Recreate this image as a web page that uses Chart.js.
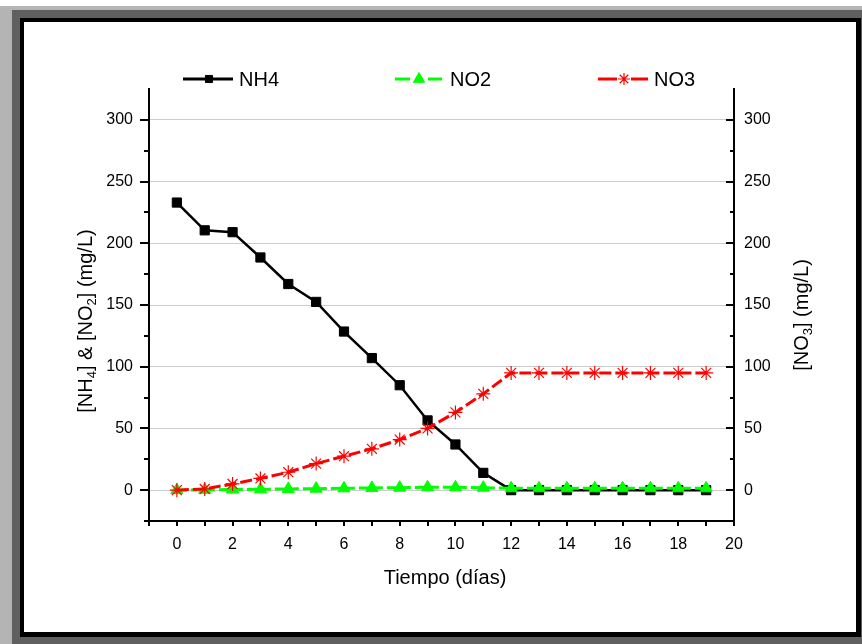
<!DOCTYPE html>
<html>
<head>
<meta charset="utf-8">
<script src="https://cdn.jsdelivr.net/npm/chart.js@4.4.1/dist/chart.umd.min.js"></script>
<style>
    html, body { margin: 0; padding: 0; background: #fff; }
    #page { position: relative; width: 862px; height: 644px; overflow: hidden; }
    .box { position: absolute; }
    canvas { position: absolute; left: 0; top: 0; }
</style>
</head>
<body>
<div id="page">
    <div class="box" style="left:0;top:6px;width:862px;height:638px;background:#b4b4b4"></div>
    <div class="box" style="left:12px;top:10px;width:850px;height:634px;background:#606060"></div>
    <div class="box" style="left:20px;top:18px;width:841px;height:619px;background:#000"></div>
    <div class="box" style="left:24px;top:22px;width:832px;height:610px;background:#fff"></div>
    <canvas id="chart" width="862" height="644"></canvas>
</div>
<script>
const days = [0, 1, 2, 3, 4, 5, 6, 7, 8, 9, 10, 11, 12, 13, 14, 15, 16, 17, 18, 19];
const nh4 = [233, 210.5, 209, 188.5, 167, 152.5, 128.5, 107, 85, 56.5, 37, 14, 0, 0, 0, 0, 0, 0, 0, 0];
const no2 = [0, 0.3, 0.5, 0.7, 1, 1.2, 1.5, 1.8, 2, 2.3, 2.3, 2, 1.5, 1.5, 1.5, 1.5, 1.5, 1.5, 1.5, 1.5];
const no3 = [0, 1, 5, 9.5, 14.5, 21.5, 27.5, 33.5, 41, 50, 63, 78, 95, 95, 95, 95, 95, 95, 95, 95];

const yTicks = [0, 50, 100, 150, 200, 250, 300];
const yMinorTicks = [-25, 25, 75, 125, 175, 225, 275];
const xTicks = [0, 2, 4, 6, 8, 10, 12, 14, 16, 18, 20];
const xMinorTicks = [-1, 1, 3, 5, 7, 9, 11, 13, 15, 17, 19];

const FONT = '"Liberation Sans", Arial, sans-serif';

function toPoints(values) {
    return days.map((d, i) => ({ x: d, y: values[i] }));
}

// Text with subscripts, centred on x = 0, baseline on y = 0
function drawRich(ctx, parts, size, subSize) {
    const fonts = parts.map((p) => (p.sub ? subSize : size) + 'px ' + FONT);
    let total = 0;
    const widths = parts.map((p, i) => {
        ctx.font = fonts[i];
        const w = ctx.measureText(p.t).width;
        total += w;
        return w;
    });
    let x = -total / 2;
    ctx.textAlign = 'left';
    ctx.textBaseline = 'alphabetic';
    parts.forEach((p, i) => {
        ctx.font = fonts[i];
        ctx.fillText(p.t, x, p.sub ? size * 0.22 : 0);
        x += widths[i];
    });
}

const decorPlugin = {
    id: 'decor',
    afterDraw(chart) {
        const ctx = chart.ctx;
        const area = chart.chartArea;
        const y = chart.scales.y;
        const x = chart.scales.x;

        ctx.save();
        ctx.strokeStyle = '#000';
        ctx.lineWidth = 2;
        ctx.beginPath();
        yTicks.forEach((v) => {
            const py = Math.round(y.getPixelForValue(v));
            ctx.moveTo(area.left - 9, py); ctx.lineTo(area.left, py);
            ctx.moveTo(area.right, py); ctx.lineTo(area.right - 8, py);
        });
        yMinorTicks.forEach((v) => {
            const py = Math.round(y.getPixelForValue(v));
            ctx.moveTo(area.left - 5, py); ctx.lineTo(area.left, py);
            ctx.moveTo(area.right, py); ctx.lineTo(area.right - 4, py);
        });
        xTicks.concat(xMinorTicks).forEach((v) => {
            const px = Math.round(x.getPixelForValue(v));
            ctx.moveTo(px, area.bottom); ctx.lineTo(px, area.bottom + 5);
        });
        ctx.stroke();

        ctx.fillStyle = '#000';
        // x title
        ctx.save();
        ctx.translate(445, 584);
        drawRich(ctx, [{ t: 'Tiempo (días)' }], 20, 13);
        ctx.restore();
        // left title
        ctx.save();
        ctx.translate(92, 321);
        ctx.rotate(-Math.PI / 2);
        drawRich(ctx, [
            { t: '[NH' }, { t: '4', sub: true }, { t: '] & [NO' }, { t: '2', sub: true }, { t: '] (mg/L)' },
        ], 20, 13);
        ctx.restore();
        // right title
        ctx.save();
        ctx.translate(808, 315);
        ctx.rotate(-Math.PI / 2);
        drawRich(ctx, [{ t: '[NO' }, { t: '3', sub: true }, { t: '] (mg/L)' }], 20, 13);
        ctx.restore();

        // legend
        const legend = [
            { x0: 183, x1: 233, mx: 209, gap: 0, tx: 239 },
            { x0: 395, x1: 442, mx: 419, gap: 9, tx: 450 },
            { x0: 598, x1: 648, mx: 624, gap: 7, tx: 654 },
        ];
        const ly = 79;
        chart.data.datasets.forEach((ds, i) => {
            const l = legend[i];
            ctx.strokeStyle = ds.borderColor;
            ctx.lineWidth = 3;
            ctx.beginPath();
            if (l.gap) {
                ctx.moveTo(l.x0, ly); ctx.lineTo(l.mx - l.gap, ly);
                ctx.moveTo(l.mx + l.gap, ly); ctx.lineTo(l.x1, ly);
            } else {
                ctx.moveTo(l.x0, ly); ctx.lineTo(l.x1, ly);
            }
            ctx.stroke();
            ctx.fillStyle = ds.pointBackgroundColor;
            ctx.strokeStyle = ds.pointBorderColor;
            ctx.lineWidth = ds.pointBorderWidth;
            Chart.helpers.drawPoint(ctx, {
                pointStyle: ds.pointStyle,
                radius: ds.legendRadius,
                rotation: 0,
                borderWidth: ds.pointBorderWidth,
            }, l.mx, ly);
            ctx.fillStyle = '#000';
            ctx.font = '20px ' + FONT;
            ctx.textAlign = 'left';
            ctx.textBaseline = 'middle';
            ctx.fillText(ds.label, l.tx, ly + 1);
        });
        ctx.restore();
    },
};

const ctx = document.getElementById('chart').getContext('2d');

new Chart(ctx, {
    type: 'line',
    data: {
        datasets: [
            {
                label: 'NH4',
                data: toPoints(nh4),
                yAxisID: 'y',
                order: 3,
                borderColor: '#000',
                borderWidth: 2.5,
                pointStyle: 'rect',
                pointRadius: 6.5,
                legendRadius: 5,
                pointBackgroundColor: '#000',
                pointBorderColor: '#000',
                pointBorderWidth: 1,
            },
            {
                label: 'NO2',
                data: toPoints(no2),
                yAxisID: 'y',
                order: 2,
                borderColor: '#00ff00',
                borderWidth: 3,
                borderDash: [10, 4],
                pointStyle: 'triangle',
                pointRadius: 7,
                legendRadius: 6.5,
                pointBackgroundColor: '#00ff00',
                pointBorderColor: '#00ff00',
                pointBorderWidth: 1,
            },
            {
                label: 'NO3',
                data: toPoints(no3),
                yAxisID: 'y2',
                order: 1,
                borderColor: '#ff0000',
                borderWidth: 3,
                borderDash: [12, 4],
                pointStyle: 'star',
                pointRadius: 7,
                legendRadius: 6,
                pointBackgroundColor: '#ff0000',
                pointBorderColor: '#ff0000',
                pointBorderWidth: 1.2,
            },
        ],
    },
    options: {
        responsive: false,
        animation: false,
        devicePixelRatio: 1,
        layout: { padding: { top: 89, left: 0, right: 0, bottom: 0 } },
        plugins: {
            legend: { display: false },
            tooltip: { enabled: false },
        },
        scales: {
            x: {
                type: 'linear',
                min: -1,
                max: 20,
                afterBuildTicks: (scale) => { scale.ticks = xTicks.map((v) => ({ value: v })); },
                afterFit: (scale) => { scale.height = 123; },
                grid: { display: false, drawTicks: false },
                border: { display: true, color: '#000', width: 2 },
                ticks: { color: '#000', padding: 14, font: { family: FONT, size: 16 }, maxRotation: 0 },
            },
            y: {
                position: 'left',
                min: -25,
                max: 325,
                afterBuildTicks: (scale) => { scale.ticks = yTicks.map((v) => ({ value: v })); },
                afterFit: (scale) => { scale.width = 149; },
                grid: { display: true, color: '#cccccc', lineWidth: 1, drawTicks: false },
                border: { display: true, color: '#000', width: 2 },
                ticks: { color: '#000', padding: 16, font: { family: FONT, size: 16 } },
            },
            y2: {
                position: 'right',
                min: -25,
                max: 325,
                afterBuildTicks: (scale) => { scale.ticks = yTicks.map((v) => ({ value: v })); },
                afterFit: (scale) => { scale.width = 128; },
                grid: { display: false, drawTicks: false },
                border: { display: true, color: '#000', width: 2 },
                ticks: { color: '#000', padding: 10, font: { family: FONT, size: 16 } },
            },
        },
    },
    plugins: [decorPlugin],
});
</script>
</body>
</html>
